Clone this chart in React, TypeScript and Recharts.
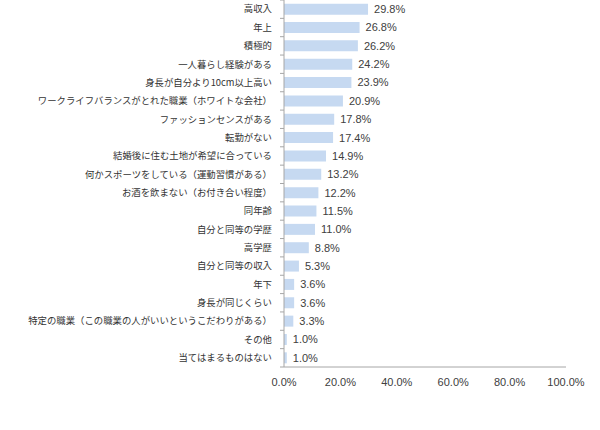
import React from 'react';
import { BarChart, Bar, XAxis, YAxis, LabelList } from 'recharts';

const categories = [
  '高収入',
  '年上',
  '積極的',
  '一人暮らし経験がある',
  '身長が自分より10cm以上高い',
  'ワークライフバランスがとれた職業（ホワイトな会社）',
  'ファッションセンスがある',
  '転勤がない',
  '結婚後に住む土地が希望に合っている',
  '何かスポーツをしている（運動習慣がある）',
  'お酒を飲まない（お付き合い程度）',
  '同年齢',
  '自分と同等の学歴',
  '高学歴',
  '自分と同等の収入',
  '年下',
  '身長が同じくらい',
  '特定の職業（この職業の人がいいというこだわりがある）',
  'その他',
  '当てはまるものはない',
];

const values = [29.8, 26.8, 26.2, 24.2, 23.9, 20.9, 17.8, 17.4, 14.9, 13.2, 12.2, 11.5, 11.0, 8.8, 5.3, 3.6, 3.6, 3.3, 1.0, 1.0];

const xTicks = [0, 20, 40, 60, 80, 100];

const data = categories.map((name, i) => ({ name, value: values[i] }));

const CHART_H = 400;
const PLOT_H = 367;
const BAND = PLOT_H / categories.length;
const AXIS_COLOR = '#a6a6a6';

const CategoryTick = (props: any) => {
  const { x, y, payload, index } = props;
  return (
    <g>
      <text
        x={x}
        y={y}
        dy="0.35em"
        textAnchor="end"
        fontSize={9.4}
        fill="#333333"
        fontFamily="'Noto Sans CJK JP', sans-serif"
      >
        {payload.value}
      </text>
      {index === 0 && (
        <line x1={x + 8} x2={x + 12} y1={y - BAND / 2} y2={y - BAND / 2} stroke={AXIS_COLOR} />
      )}
      <line x1={x + 8} x2={x + 12} y1={y + BAND / 2} y2={y + BAND / 2} stroke={AXIS_COLOR} />
    </g>
  );
};

const App: React.FC = () => {
  return (
    <div style={{ position: 'absolute', left: 0, top: 0, width: 600, height: CHART_H, background: '#fff' }}>
      <BarChart
        width={600}
        height={CHART_H}
        layout="vertical"
        data={data}
        barCategoryGap="20%"
        margin={{ top: 0, right: 34, left: 0, bottom: 3 }}
      >
        <XAxis
          type="number"
          domain={[0, 100]}
          ticks={xTicks}
          tickFormatter={(v: number) => `${v.toFixed(1)}%`}
          axisLine={{ stroke: AXIS_COLOR }}
          tickLine={false}
          tickSize={6}
          tickMargin={5}
          height={30}
          tick={{ fontSize: 11, fill: '#404040', fontFamily: "'Liberation Sans', Arial, sans-serif" }}
          interval={0}
        />
        <YAxis
          type="category"
          dataKey="name"
          width={284}
          interval={0}
          axisLine={{ stroke: AXIS_COLOR }}
          tickLine={false}
          tickSize={10}
          tickMargin={2}
          tick={<CategoryTick />}
        />
        <Bar dataKey="value" fill="#c6d9f1" isAnimationActive={false}>
          <LabelList
            dataKey="value"
            position="right"
            offset={6}
            formatter={(v: any) => `${Number(v).toFixed(1)}%`}
            style={{ fill: '#404040', fontSize: 11, fontFamily: "'Liberation Sans', Arial, sans-serif" }}
          />
        </Bar>
      </BarChart>
    </div>
  );
};

export default App;
